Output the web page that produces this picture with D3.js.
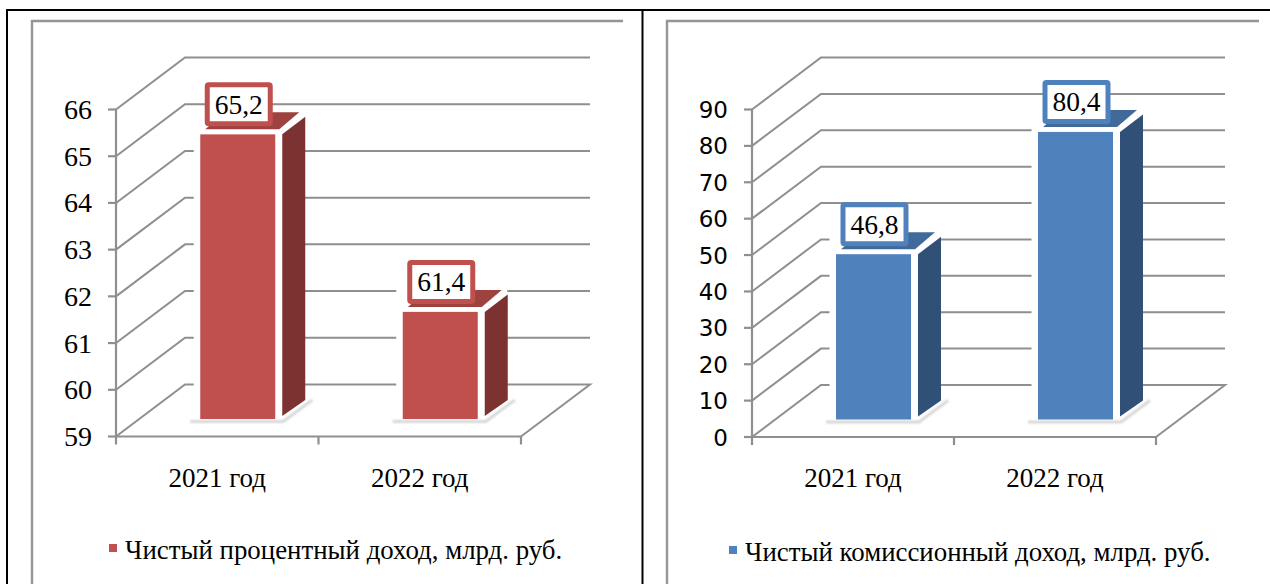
<!DOCTYPE html>
<html><head><meta charset="utf-8">
<script src="https://cdn.jsdelivr.net/npm/d3@7"></script>
<style>html,body{margin:0;padding:0;background:#fff}svg{display:block}</style></head>
<body><svg id="c" width="1270" height="584"></svg>
<script>
const categories = ["2021 год", "2022 год"];
const leftValues = [65.2, 61.4];
const rightValues = [46.8, 80.4];
const leftLabels = ["65,2", "61,4"];
const rightLabels = ["46,8", "80,4"];
const leftTicks = [59, 60, 61, 62, 63, 64, 65, 66];
const rightTicks = [0, 10, 20, 30, 40, 50, 60, 70, 80, 90];
const leftLegend = "Чистый процентный доход, млрд. руб.";
const rightLegend = "Чистый комиссионный доход, млрд. руб.";

const svg = d3.select("#c");
const defs = svg.append("defs");
defs.append("filter").attr("id","blur").append("feGaussianBlur").attr("stdDeviation",1.2);
const serif = "'Liberation Serif','Times New Roman',serif";
const GRID = "#8f8f8f";

// outer black table lines
const black = svg.append("g").attr("stroke","#000").attr("stroke-width",2).attr("fill","none");
black.append("line").attr("x1",7).attr("x2",1270).attr("y1",10).attr("y2",10);
black.append("line").attr("x1",7).attr("x2",7).attr("y1",9).attr("y2",584);
black.append("line").attr("x1",642.5).attr("x2",642.5).attr("y1",9).attr("y2",584);

function chart(o){
  const g = svg.append("g");
  // chart-area frame (open at the bottom)
  g.append("path").attr("fill","none").attr("stroke","#959595").attr("stroke-width",2.4)
    .attr("d",`M${o.frameL},584V21H${o.frameR}`);
  const dx = 69, dy = 52;
  const y = d3.scaleLinear().domain(d3.extent(o.ticks)).range([o.floor, o.top]);
  const x = d3.scaleBand().domain(categories).range([o.axisX, o.axisR]);
  // back wall gridlines with slanted side wall
  g.append("g").selectAll("path").data(o.ticks).join("path")
    .attr("fill","none").attr("stroke",GRID).attr("stroke-width",2)
    .attr("d",d=>{
      const yy=y(d);
      return d===o.ticks[0]
        ? `M${o.axisX},${yy}L${o.axisX+dx},${yy-dy}H${o.axisR+dx}L${o.axisR},${yy}`
        : `M${o.axisX},${yy}L${o.axisX+dx},${yy-dy}H${o.axisR+dx}`;
    });
  // axis lines
  const ax = g.append("g").attr("stroke",GRID).attr("stroke-width",2.2).attr("fill","none");
  ax.append("line").attr("x1",o.axisX).attr("x2",o.axisX).attr("y1",o.top).attr("y2",o.floor);
  ax.append("line").attr("x1",o.axisX).attr("x2",o.axisR).attr("y1",o.floor).attr("y2",o.floor);
  ax.selectAll(".ty").data(o.ticks).join("line").attr("class","ty")
    .attr("x1",o.axisX-8).attr("x2",o.axisX).attr("y1",d=>y(d)).attr("y2",d=>y(d));
  ax.selectAll(".tx").data([o.axisX, o.axisX+x.bandwidth(), o.axisR]).join("line").attr("class","tx")
    .attr("x1",d=>d).attr("x2",d=>d).attr("y1",o.floor).attr("y2",o.floor+8);
  // tick labels
  g.append("g").selectAll("text").data(o.ticks).join("text")
    .attr("x",o.axisX-o.tickGap).attr("y",d=>y(d)+o.tickDy).attr("text-anchor","end")
    .attr("font-family",o.tickFont).attr("font-size",o.tickSize).attr("fill","#000").text(d=>d);
  // bars
  const W = 75, offset = 17.5, base = o.floor-offset, inset = 5;
  categories.forEach((c,i)=>{
    const v = o.values[i];
    const L = x(c)+x.bandwidth()/2-17, R = L+W;
    const T = y(v)-offset+inset;
    const b = g.append("g");
    // halo hiding the gridlines behind the bar
    b.append("rect").attr("x",L-6.5).attr("y",T-26).attr("width",W+36).attr("height",base-T+26).attr("fill","#fff");
    // soft floor shadow
    b.append("path").attr("fill","none").attr("stroke","#cfcfcf").attr("stroke-width",2.5).attr("filter","url(#blur)")
      .attr("d",`M${L-10},${base+2.5}H${R+8}L${R+37},${base-19}`);
    // top face
    b.append("path").attr("fill",d3.color(o.color).darker(0.55))
      .attr("d",`M${L+5},${T-5}H${R+4}L${R+24},${T-22}H${L+25}Z`);
    // side face
    b.append("path").attr("fill",o.side)
      .attr("d",`M${R+7},${T}L${R+30},${T-17.5}V${base-19}L${R+7},${base-3}Z`);
    // front face
    b.append("rect").attr("x",L).attr("y",T).attr("width",W).attr("height",base-T).attr("fill",o.color);
    // value label
    const cx=L+W/2+1, cy=T-30;
    b.append("rect").attr("x",cx-31.5).attr("y",cy-19.5).attr("width",63).attr("height",39).attr("rx",1.5)
      .attr("fill","#fff").attr("stroke",o.color).attr("stroke-width",5);
    b.append("text").attr("x",cx).attr("y",cy+9.5).attr("text-anchor","middle")
      .attr("font-family",serif).attr("font-size",27.5).attr("fill","#000").text(o.labels[i]);
  });
  // category labels
  g.append("g").selectAll("text").data(categories).join("text")
    .attr("x",d=>x(d)+x.bandwidth()/2).attr("y",o.floor+50).attr("text-anchor","middle")
    .attr("font-family",serif).attr("font-size",27).attr("fill","#000").text(d=>d);
  // legend
  g.append("rect").attr("x",o.legX).attr("y",o.legY-8).attr("width",8).attr("height",8).attr("fill",o.color);
  g.append("text").attr("x",o.legX+16).attr("y",o.legY+7).attr("font-family",serif)
    .attr("font-size",26.85).attr("fill","#000").text(o.legend);
}

chart({frameL:32,frameR:623,axisX:116,axisR:521,floor:436.5,top:109.5,values:leftValues,labels:leftLabels,ticks:leftTicks,
  color:"#c0504d",side:"#7b3231",legX:109,legY:552,legend:leftLegend,tickFont:serif,tickSize:28,tickGap:24,tickDy:9.5});
chart({frameL:667,frameR:1259,axisX:752,axisR:1156,floor:437,top:109.5,values:rightValues,labels:rightLabels,ticks:rightTicks,
  color:"#4f81bd",side:"#315077",legX:729,legY:554,legend:rightLegend,tickFont:"'DejaVu Sans',sans-serif",tickSize:23,tickGap:24,tickDy:8.5});
</script></body></html>
